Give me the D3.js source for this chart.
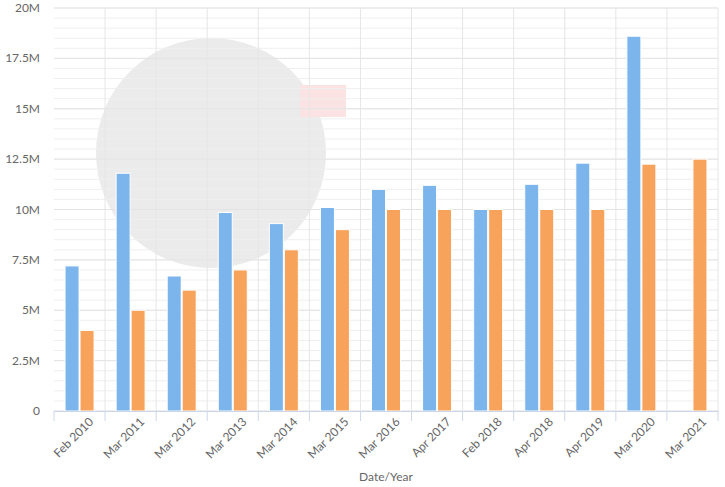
<!DOCTYPE html>
<html><head><meta charset="utf-8">
<script src="https://cdn.jsdelivr.net/npm/d3@7"></script>
<style>body{margin:0;background:#fff;font-family:Lato,"Open Sans",sans-serif;}</style>
</head><body><svg id="chart" width="725" height="487"></svg>
<script>
const categories = ["Feb 2010","Mar 2011","Mar 2012","Mar 2013","Mar 2014","Mar 2015","Mar 2016","Apr 2017","Feb 2018","Apr 2018","Apr 2019","Mar 2020","Mar 2021"];
const seriesA = [7.2, 11.8, 6.7, 9.85, 9.3, 10.1, 11.0, 11.2, 10.0, 11.25, 12.3, 18.6, null];
const seriesB = [4, 5, 6, 7, 8, 9, 10, 10, 10, 10, 10, 12.25, 12.5];
const yTicks = [0, 2.5, 5, 7.5, 10, 12.5, 15, 17.5, 20];

const margin = {left: 54, right: 7, top: 8, bottom: 76};
const W = 725, H = 487;
const svg = d3.select("#chart");

const x = d3.scaleBand().domain(categories).range([margin.left, W - margin.right]);
const y = d3.scaleLinear().domain([0, 20]).range([H - margin.bottom, margin.top]);

// watermark
svg.append("circle").attr("cx", 211).attr("cy", 153).attr("r", 115).attr("fill", "#ebebeb");
svg.append("rect").attr("x", 300).attr("y", 85).attr("width", 46).attr("height", 32).attr("fill", "#fbe3e3");

// minor gridlines
svg.append("g").selectAll("line").data(d3.range(0, 20.01, 0.5)).join("line")
  .attr("x1", margin.left).attr("x2", W - margin.right)
  .attr("y1", d => y(d)).attr("y2", d => y(d))
  .attr("stroke", "#efefef");
svg.append("g").selectAll("line").data(yTicks).join("line")
  .attr("x1", margin.left).attr("x2", W - margin.right)
  .attr("y1", d => y(d)).attr("y2", d => y(d))
  .attr("stroke", "#e3e3e3");
// vertical gridlines at category edges
svg.append("g").selectAll("line").data(categories).join("line")
  .attr("x1", d => x(d) + x.bandwidth()).attr("x2", d => x(d) + x.bandwidth())
  .attr("y1", y(20)).attr("y2", y(0))
  .attr("stroke", "#e6e6e6");

const bw = 14, gap = 1;
const off = (x.bandwidth() - 2 * bw - gap) / 2;
svg.append("g").selectAll("rect").data(categories.filter((d, i) => seriesA[i] != null)).join("rect")
  .attr("x", d => x(d) + off).attr("width", bw)
  .attr("y", d => y(seriesA[categories.indexOf(d)]))
  .attr("height", d => y(0) - y(seriesA[categories.indexOf(d)]))
  .attr("fill", "#7cb5ec").attr("stroke", "#fff");
svg.append("g").selectAll("rect").data(categories).join("rect")
  .attr("x", d => x(d) + off + bw + gap).attr("width", bw)
  .attr("y", (d, i) => y(seriesB[i]))
  .attr("height", (d, i) => y(0) - y(seriesB[i]))
  .attr("fill", "#f7a35c").attr("stroke", "#fff");

// y axis labels
svg.append("g").selectAll("text").data(yTicks).join("text")
  .attr("x", 40).attr("y", d => y(d) + 4).attr("text-anchor", "end")
  .attr("font-size", 12).attr("fill", "#666")
  .text(d => d === 0 ? "0" : d + "M");

// x axis
const xAxis = svg.append("g").attr("transform", `translate(0,${y(0)})`)
  .call(d3.axisBottom(x).tickSize(0).tickPadding(10));
xAxis.select(".domain").attr("stroke", "#ccd6eb");
xAxis.selectAll("text").attr("font-size", 12).attr("fill", "#666").attr("font-family", "Lato, sans-serif")
  .attr("text-anchor", "end").attr("dy", "0.3em")
  .attr("transform", "translate(5,2) rotate(-45)");
svg.append("g").selectAll("line").data([margin.left].concat(categories.map(c => x(c) + x.bandwidth()))).join("line")
  .attr("x1", d => d).attr("x2", d => d).attr("y1", y(0)).attr("y2", y(0) + 10)
  .attr("stroke", "#ccd6eb");

svg.append("text").attr("x", (margin.left + W - margin.right) / 2).attr("y", 481)
  .attr("text-anchor", "middle").attr("font-size", 12).attr("fill", "#666").text("Date/Year");
</script></body></html>
